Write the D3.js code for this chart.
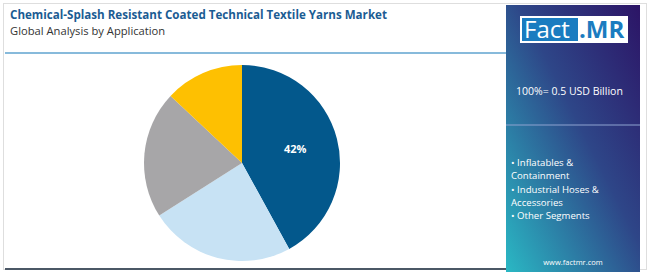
<!DOCTYPE html>
<html>
<head>
<meta charset="utf-8">
<script src="https://cdn.jsdelivr.net/npm/d3@7"></script>
<style>
  body { margin: 0; background: #ffffff; }
  svg text { font-family: "Open Sans", Roboto, sans-serif; }
</style>
</head>
<body>
<div id="chart"></div>
<script>
var segments = ["Inflatables & Containment", "Industrial Hoses & Accessories", "Other Segments", "Other Segments 2"];
var shares = [42, 24, 21, 13];
var sliceColors = ["#03588c", "#c7e2f4", "#a7a6a8", "#fec001"];
var legendLines = ["• Inflatables &", "Containment", "• Industrial Hoses &", "Accessories", "• Other Segments"];

var width = 650, height = 273;

var svg = d3.select("#chart")
  .append("svg")
    .attr("width", width)
    .attr("height", height);

// card frame
svg.append("rect")
  .attr("x", 3.5).attr("y", 3.5)
  .attr("width", 643).attr("height", 266)
  .attr("fill", "#fff")
  .attr("stroke", "#dedede");

// header
svg.append("text")
  .attr("x", 10).attr("y", 19)
  .attr("fill", "#1b5c93")
  .style("font-weight", "700")
  .style("font-size", "11.6px")
  .text("Chemical-Splash Resistant Coated Technical Textile Yarns Market");

svg.append("text")
  .attr("x", 10).attr("y", 35)
  .attr("fill", "#333")
  .style("font-size", "11.2px")
  .text("Global Analysis by Application");

svg.append("line")
  .attr("x1", 5).attr("x2", 506)
  .attr("y1", 53).attr("y2", 53)
  .attr("stroke", "#5fa3cf")
  .attr("stroke-width", 1.5);

svg.append("line")
  .attr("x1", 5).attr("x2", 506)
  .attr("y1", 269).attr("y2", 269)
  .attr("stroke", "#4b5866")
  .attr("stroke-width", 2);

// pie
var pie = d3.pie().sort(null).value(function(d) { return d; });
var arc = d3.arc().innerRadius(0).outerRadius(98);
var labelArc = d3.arc().innerRadius(55).outerRadius(55);

var g = svg.append("g")
  .attr("transform", "translate(242,163)");

var arcs = pie(shares);

g.selectAll("path")
  .data(arcs)
  .enter()
  .append("path")
    .attr("d", arc)
    .attr("fill", function(d, i) { return sliceColors[i]; });

g.selectAll("text")
  .data(arcs.filter(function(d) { return d.index === 0; }))
  .enter()
  .append("text")
    .attr("transform", function(d) { return "translate(" + labelArc.centroid(d) + ")"; })
    .attr("text-anchor", "middle")
    .attr("dy", "0.35em")
    .attr("fill", "#fff")
    .style("font-weight", "700")
    .style("font-size", "11px")
    .text(function(d) { return d.data + "%"; });

// side panel
var defs = svg.append("defs");
var grad = defs.append("linearGradient")
  .attr("id", "panelGrad")
  .attr("x1", "100%").attr("y1", "0%")
  .attr("x2", "0%").attr("y2", "100%");
grad.append("stop").attr("offset", "0%").attr("stop-color", "#2c1466");
grad.append("stop").attr("offset", "45%").attr("stop-color", "#2e4688");
grad.append("stop").attr("offset", "100%").attr("stop-color", "#2ab8c4");

svg.append("rect")
  .attr("x", 506).attr("y", 5)
  .attr("width", 134).attr("height", 267)
  .attr("fill", "url(#panelGrad)");

// logo
svg.append("rect")
  .attr("x", 520).attr("y", 16)
  .attr("width", 108).attr("height", 27)
  .attr("fill", "#fff");
svg.append("rect")
  .attr("x", 522).attr("y", 18)
  .attr("width", 56).attr("height", 23)
  .attr("fill", "#1a7cc0");
svg.append("text")
  .attr("x", 524).attr("y", 38)
  .attr("fill", "#fff")
  .style("font-size", "24px")
  .style("font-weight", "400")
  .text("Fact");
svg.append("text")
  .attr("x", 579).attr("y", 38)
  .attr("fill", "#1a7cc0")
  .style("font-size", "24px")
  .style("font-weight", "700")
  .text(".MR");

svg.append("text")
  .attr("x", 516).attr("y", 95)
  .attr("fill", "#fff")
  .style("font-size", "10.5px")
  .text("100%= 0.5 USD Billion");

svg.append("line")
  .attr("x1", 506).attr("x2", 640)
  .attr("y1", 125).attr("y2", 125)
  .attr("stroke", "#8ea3d0")
  .attr("stroke-width", 1);

svg.append("g")
  .selectAll("text")
  .data(legendLines)
  .enter()
  .append("text")
    .attr("x", 511)
    .attr("y", function(d, i) { return 166 + i * 13.3; })
    .attr("fill", "#fff")
    .style("font-size", "9.6px")
    .text(function(d) { return d; });

svg.append("text")
  .attr("x", 573).attr("y", 265)
  .attr("text-anchor", "middle")
  .attr("fill", "#fff")
  .style("font-size", "7.5px")
  .text("www.factmr.com");
</script>
</body>
</html>
